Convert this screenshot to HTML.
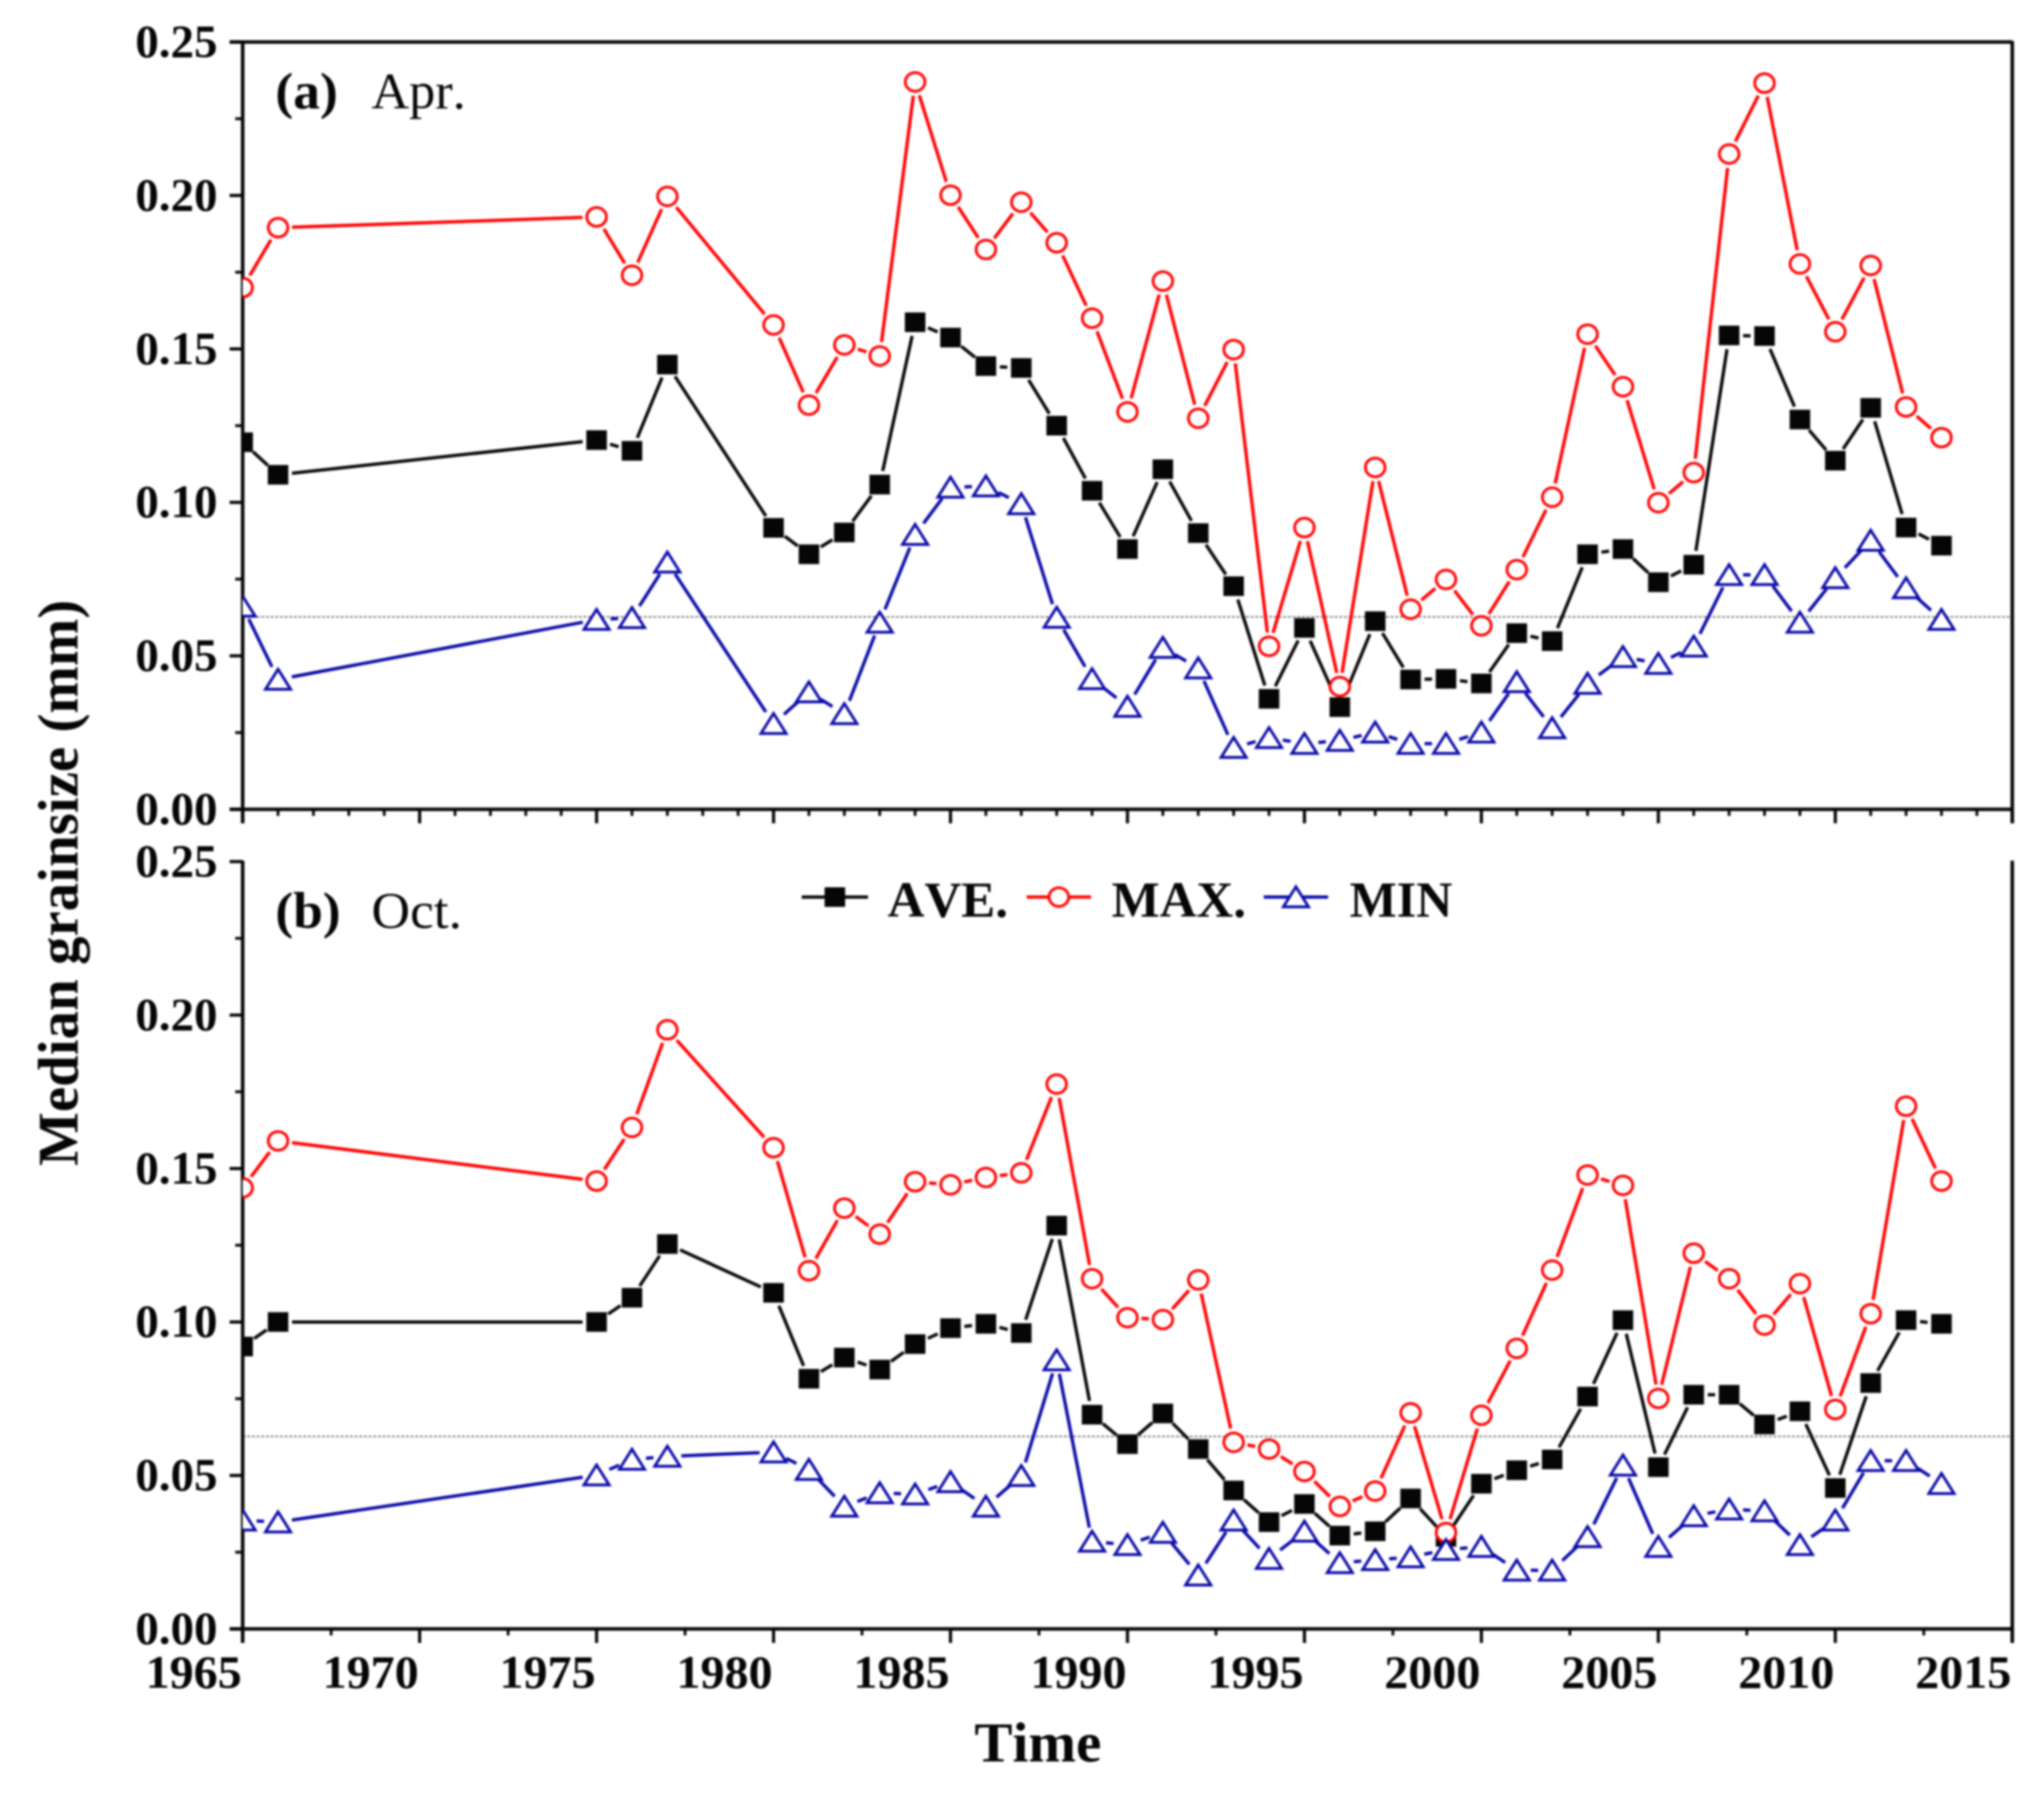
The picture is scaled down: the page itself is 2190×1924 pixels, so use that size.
<!DOCTYPE html>
<html lang="en">
<head>
<meta charset="utf-8">
<title>Median grainsize chart</title>
<style>
  html, body { margin: 0; padding: 0; background: #fff; }
  body { width: 2190px; height: 1924px; overflow: hidden; }
  #chart { display: block; filter: blur(0.95px); font-family: "Liberation Serif", serif; font-kerning: none; }
</style>
</head>
<body>
<svg id="chart" xmlns="http://www.w3.org/2000/svg" width="2190" height="1924" viewBox="0 0 2190 1924">
  <rect x="0" y="0" width="2190" height="1924" fill="#ffffff"/>
  <defs>
    <clipPath id="clip-a"><rect x="260" y="30" width="1896" height="850"/></clipPath>
    <clipPath id="clip-b"><rect x="260" y="908" width="1896" height="850"/></clipPath>
  </defs>
</svg>
<script>
const years = [1965,1966,1975,1976,1977,1980,1981,1982,1983,1984,1985,1986,1987,1988,1989,1990,1991,1992,1993,1994,1995,1996,1997,1998,1999,2000,2001,2002,2003,2004,2005,2006,2007,2008,2009,2010,2011,2012,2013];

const aprAve = [.1196,.109,.1203,.1168,.1449,.0917,.0831,.0902,.1058,.1587,.1537,.1444,.1438,.125,.1038,.0848,.1108,.09,.0727,.036,.0591,.0333,.0613,.0423,.0425,.041,.0574,.0548,.0831,.0848,.074,.0797,.1544,.1542,.127,.1136,.1308,.0918,.0859];
const aprMax = [.170,.1895,.193,.174,.1997,.1578,.1317,.1513,.1477,.237,.2001,.1824,.1978,.1846,.160,.1295,.1721,.1274,.1498,.0531,.0918,.040,.1114,.0652,.0749,.0598,.0781,.1017,.1548,.1377,.0999,.1097,.2135,.2366,.1777,.1556,.1772,.1311,.1211];
const aprMin = [.0661,.0423,.0618,.0624,.0805,.0279,.0382,.0311,.0609,.0895,.1049,.1053,.0995,.0625,.0425,.0335,.0527,.046,.0201,.0233,.0214,.0224,.0251,.0214,.0214,.0251,.0415,.0265,.041,.0497,.0475,.0531,.0764,.0764,.0609,.0754,.0876,.0721,.0618];

const octAve = [.092,.10,.10,.1079,.1254,.1095,.0815,.0884,.0845,.0928,.098,.0994,.0964,.1314,.0698,.0602,.0702,.0586,.0451,.0348,.0407,.0304,.0318,.0425,.030,.0473,.0517,.0552,.0757,.1006,.0527,.0763,.0763,.0666,.0709,.0459,.0801,.1006,.0994];
const octMax = [.1437,.159,.1459,.1634,.1952,.1568,.1167,.1371,.1286,.1457,.1447,.1471,.1486,.1775,.1141,.1014,.1008,.1137,.0608,.0586,.0513,.0399,.0449,.0704,.0314,.0696,.0914,.1169,.1479,.1445,.0751,.1224,.1141,.099,.1125,.0715,.1027,.1703,.1459];
const octMin = [.0354,.0348,.0501,.0552,.0562,.0576,.0519,.0399,.0443,.0439,.0479,.0399,.0499,.0876,.0285,.0274,.0314,.0175,.0354,.0229,.0318,.0215,.0225,.0234,.0258,.0268,.0191,.0191,.03,.0533,.0268,.0368,.039,.0384,.0274,.0354,.0548,.0548,.0473];

const yTicks = [0, 0.05, 0.10, 0.15, 0.20, 0.25];
const yTickLabels = ["0.00", "0.05", "0.10", "0.15", "0.20", "0.25"];
const yMinorTicks = [0.025, 0.075, 0.125, 0.175, 0.225];
const xTicks = [1965, 1970, 1975, 1980, 1985, 1990, 1995, 2000, 2005, 2010, 2015];
const xTickLabels = ["1965", "1970", "1975", "1980", "1985", "1990", "1995", "2000", "2005", "2010", "2015"];
const referenceLevel = 0.0627;

const svg = document.getElementById('chart');
const NS = 'http://www.w3.org/2000/svg';
const INK = '#060606';
const RED = '#ff0000';
const BLUE = '#0a0aa8';
const LEFT = 260, RIGHT = 2156;

function xScale(year) { return LEFT + (year - 1965) * (RIGHT - LEFT) / 50; }
function yScale(panel, value) { return panel.bottom - value * (panel.bottom - panel.top) / 0.25; }

function make(parent, tag, attrs, text) {
  const el = document.createElementNS(NS, tag);
  for (const k in attrs) el.setAttribute(k, attrs[k]);
  if (text !== undefined) el.textContent = text;
  parent.appendChild(el);
  return el;
}

function drawMarker(parent, kind, cx, cy) {
  if (kind === 'square') {
    return make(parent, 'rect', { x: cx - 11, y: cy - 10.5, width: 22, height: 21, fill: INK });
  }
  if (kind === 'circle') {
    return make(parent, 'ellipse', { cx: cx, cy: cy, rx: 10.5, ry: 10, fill: '#fff', stroke: RED, 'stroke-width': 3 });
  }
  return make(parent, 'polygon', {
    points: (cx - 13.5) + ',' + (cy + 10.5) + ' ' + cx + ',' + (cy - 11) + ' ' + (cx + 13.5) + ',' + (cy + 10.5),
    fill: '#fff', stroke: BLUE, 'stroke-width': 3
  });
}

function drawSeries(parent, panel, values, name, color, kind) {
  const g = make(parent, 'g', { 'clip-path': 'url(#' + panel.clip + ')' });
  
  
  const gap = 15;
  for (let i = 0; i < values.length - 1; i++) {
    const x1 = xScale(years[i]), y1 = yScale(panel, values[i]);
    const x2 = xScale(years[i + 1]), y2 = yScale(panel, values[i + 1]);
    const len = Math.hypot(x2 - x1, y2 - y1);
    if (len <= gap * 2) continue;
    const ux = (x2 - x1) / len, uy = (y2 - y1) / len;
    const seg = make(g, 'line', { x1: x1 + ux * gap, y1: y1 + uy * gap, x2: x2 - ux * gap, y2: y2 - uy * gap, stroke: color, 'stroke-width': 3.5 });
    
    
  }
  for (let i = 0; i < values.length; i++) {
    const m = drawMarker(g, kind, xScale(years[i]), yScale(panel, values[i]));
    
    
  }
}

function drawPanel(panel) {
  const g = make(svg, 'g', {});
  
  

  const ref = make(g, 'line', { x1: LEFT, x2: RIGHT, y1: yScale(panel, referenceLevel), y2: yScale(panel, referenceLevel), stroke: '#777', 'stroke-width': 1.6, 'stroke-dasharray': '3 2' });
  
  

  const axisStyle = { stroke: INK, 'stroke-width': 3.8 };
  const leftAxis = make(g, 'line', Object.assign({ x1: LEFT, x2: LEFT, y1: panel.top - 1, y2: panel.bottom + 15 }, axisStyle));
  
  
  const rightAxis = make(g, 'line', Object.assign({ x1: RIGHT, x2: RIGHT, y1: panel.top - 1, y2: panel.bottom + 15 }, axisStyle));
  
  
  const bottomAxis = make(g, 'line', Object.assign({ x1: LEFT - 14, x2: RIGHT, y1: panel.bottom, y2: panel.bottom }, axisStyle));
  
  
  if (panel.topLine) {
    const topAxis = make(g, 'line', Object.assign({ x1: LEFT - 14, x2: RIGHT, y1: panel.top, y2: panel.top }, axisStyle));
    
    
  }

  yTicks.forEach(function (v, i) {
    const y = yScale(panel, v);
    const t = make(g, 'line', { x1: LEFT - 14, x2: LEFT, y1: y, y2: y, stroke: INK, 'stroke-width': 3.4 });
    
    
    const label = make(g, 'text', { x: 145, y: y + 16, 'font-size': 50, 'font-weight': 'bold', fill: INK, textLength: 88, lengthAdjust: 'spacingAndGlyphs' }, yTickLabels[i]);
    
    
  });
  yMinorTicks.forEach(function (v) {
    const y = yScale(panel, v);
    const t = make(g, 'line', { x1: LEFT - 8, x2: LEFT, y1: y, y2: y, stroke: INK, 'stroke-width': 3 });
    
    
  });

  xTicks.forEach(function (yr) {
    const x = xScale(yr);
    const t = make(g, 'line', { x1: x, x2: x, y1: panel.bottom, y2: panel.bottom + 15, stroke: INK, 'stroke-width': 3.4 });
    
    
  });
  for (let yr = 1965; yr < 2015; yr += panel.minorStep) {
    if ((yr - 1965) % 5 === 0) continue;
    const x = xScale(yr);
    const t = make(g, 'line', { x1: x, x2: x, y1: panel.bottom, y2: panel.bottom + 7, stroke: INK, 'stroke-width': 3 });
    
    
  }

  drawSeries(g, panel, panel.ave, 'ave', INK, 'square');
  drawSeries(g, panel, panel.max, 'max', RED, 'circle');
  drawSeries(g, panel, panel.min, 'min', BLUE, 'triangle');

  const tag = make(g, 'text', { x: 295, y: panel.labelY, 'font-size': 55, 'font-weight': 'bold', fill: INK, textLength: panel.tagWidth, lengthAdjust: 'spacingAndGlyphs' }, panel.tag);
  
  
  const month = make(g, 'text', { x: 398, y: panel.labelY, 'font-size': 55, fill: INK, textLength: panel.monthWidth, lengthAdjust: 'spacingAndGlyphs' }, panel.month);
  
  
}

const panelA = { id: 'a', top: 45, bottom: 867, clip: 'clip-a', topLine: true, minorStep: 1, labelY: 116, tag: '(a)', month: 'Apr.', tagWidth: 67, monthWidth: 101, ave: aprAve, max: aprMax, min: aprMin };
const panelB = { id: 'b', top: 923, bottom: 1745, clip: 'clip-b', topLine: false, minorStep: 2.5, labelY: 994, tag: '(b)', month: 'Oct.', tagWidth: 70, monthWidth: 97, ave: octAve, max: octMax, min: octMin };
drawPanel(panelA);
drawPanel(panelB);

xTicks.forEach(function (yr, i) {
  const label = make(svg, 'text', { x: xScale(yr) - 104, y: 1808, 'font-size': 50, 'font-weight': 'bold', fill: INK, textLength: 103, lengthAdjust: 'spacingAndGlyphs' }, xTickLabels[i]);
  
  
});

const xTitle = make(svg, 'text', { x: 1044, y: 1887, 'font-size': 60, 'font-weight': 'bold', fill: INK, textLength: 136, lengthAdjust: 'spacingAndGlyphs' }, 'Time');



const yTitle = make(svg, 'text', { transform: 'translate(83 1249) rotate(-90)', 'font-size': 61, 'font-weight': 'bold', fill: INK }, 'Median grainsize (mm)');



const legendEntries = [
  { label: 'AVE.', color: INK, kind: 'square', lineX1: 859, lineX2: 930, textX: 951, textWidth: 129 },
  { label: 'MAX.', color: RED, kind: 'circle', lineX1: 1100, lineX2: 1169, textX: 1191, textWidth: 144 },
  { label: 'MIN', color: BLUE, kind: 'triangle', lineX1: 1354, lineX2: 1423, textX: 1446, textWidth: 110 }
];
const legend = make(svg, 'g', {});


legendEntries.forEach(function (e) {
  const g = make(legend, 'g', {});
  
  
  make(g, 'line', { x1: e.lineX1, x2: e.lineX2, y1: 961, y2: 961, stroke: e.color, 'stroke-width': 3.5 });
  drawMarker(g, e.kind, (e.lineX1 + e.lineX2) / 2, 961);
  make(g, 'text', { x: e.textX, y: 982, 'font-size': 54, 'font-weight': 'bold', fill: INK, textLength: e.textWidth, lengthAdjust: 'spacingAndGlyphs' }, e.label);
});
</script>
</body>
</html>
